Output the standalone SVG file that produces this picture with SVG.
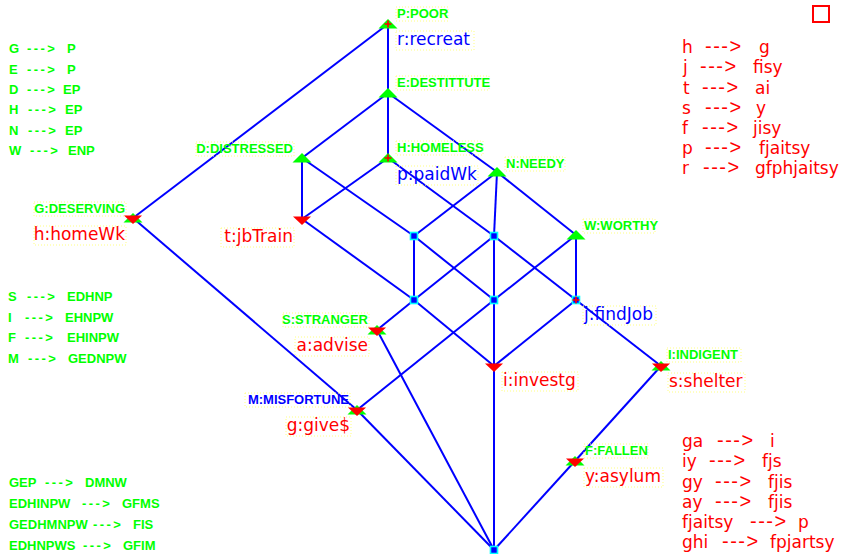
<svg xmlns="http://www.w3.org/2000/svg" width="849" height="554" viewBox="0 0 849 554">
<style>
.e{stroke:#0000ff;stroke-width:2;fill:none}
.gl{font-family:"Liberation Sans",Arial,sans-serif;font-size:13px;font-weight:bold;fill:#00ff00}
.bl{font-family:"Liberation Sans",Arial,sans-serif;font-size:13px;font-weight:bold;fill:#0000ff}
.ol{font-family:"DejaVu Sans",sans-serif;font-size:17px}
.red{fill:#ff0000}
.blu{fill:#0000ff}
.gi{font-family:"Liberation Sans",Arial,sans-serif;font-size:13px;font-weight:bold;fill:#00ff00}
.ga{letter-spacing:2.4px}
.ri{font-family:"DejaVu Sans",sans-serif;font-size:17px;fill:#ff0000}
.ra{font-family:"Liberation Sans",Arial,sans-serif;font-size:20px;letter-spacing:1.5px}
.bx{fill:none;stroke:#ffff80;stroke-width:1;stroke-dasharray:1 2}
</style>
<defs>
<polygon id="up" points="0,-5 -9.5,4.5 9.5,4.5" fill="#00ff00"/>
<polygon id="dn" points="-9,-2.5 9,-2.5 0,6" fill="#ff0000"/>
<path id="pl" d="M-3.5,0H3.5M0,-3.5V3.5" stroke="#ff0000" stroke-width="1.6" fill="none"/>
<g id="sq"><rect x="-3.5" y="-3.5" width="7" height="7" fill="#0000ff" stroke="#00ffff" stroke-width="1.6"/></g>
</defs>
<rect width="849" height="554" fill="#ffffff"/>
<rect x="813" y="6" width="16" height="16" fill="none" stroke="#ff0000" stroke-width="2"/>

<g id="connectors">
<line class="e" x1="388" y1="24" x2="133" y2="218"/>
<line class="e" x1="388" y1="24" x2="388" y2="93"/>
<line class="e" x1="388" y1="93" x2="302" y2="158"/>
<line class="e" x1="388" y1="93" x2="388" y2="158"/>
<line class="e" x1="388" y1="93" x2="497" y2="172"/>
<line class="e" x1="302" y1="158" x2="302" y2="219"/>
<line class="e" x1="302" y1="158" x2="414" y2="236"/>
<line class="e" x1="388" y1="158" x2="302" y2="219"/>
<line class="e" x1="388" y1="158" x2="494" y2="236"/>
<line class="e" x1="497" y1="172" x2="414" y2="236"/>
<line class="e" x1="497" y1="172" x2="494" y2="236"/>
<line class="e" x1="497" y1="172" x2="576" y2="235"/>
<line class="e" x1="414" y1="236" x2="414" y2="300"/>
<line class="e" x1="414" y1="236" x2="494" y2="300"/>
<line class="e" x1="494" y1="236" x2="414" y2="300"/>
<line class="e" x1="494" y1="236" x2="494" y2="300"/>
<line class="e" x1="494" y1="236" x2="576" y2="300"/>
<line class="e" x1="302" y1="219" x2="414" y2="300"/>
<line class="e" x1="576" y1="235" x2="494" y2="300"/>
<line class="e" x1="576" y1="235" x2="576" y2="300"/>
<line class="e" x1="414" y1="300" x2="377" y2="330"/>
<line class="e" x1="414" y1="300" x2="494" y2="366"/>
<line class="e" x1="494" y1="300" x2="494" y2="366"/>
<line class="e" x1="494" y1="300" x2="357" y2="410"/>
<line class="e" x1="576" y1="300" x2="494" y2="366"/>
<line class="e" x1="576" y1="300" x2="661" y2="366"/>
<line class="e" x1="133" y1="218" x2="357" y2="410"/>
<line class="e" x1="377" y1="330" x2="494" y2="550"/>
<line class="e" x1="357" y1="410" x2="494" y2="550"/>
<line class="e" x1="494" y1="366" x2="494" y2="550"/>
<line class="e" x1="661" y1="366" x2="575" y2="461"/>
<line class="e" x1="575" y1="461" x2="494" y2="550"/>
</g>

<g id="nP">
<rect class="bx" x="396" y="7" width="52" height="14"/>
<rect class="bx" x="396" y="31" width="78" height="19"/>
<use href="#up" x="388" y="24"/><use href="#pl" x="388" y="24"/>
<text class="gl" x="397" y="18">P:POOR</text>
<text class="ol blu" x="397" y="45">r:recreat</text>
</g>
<g id="nE">
<rect class="bx" x="396" y="76" width="93" height="14"/>
<use href="#up" x="388" y="93"/>
<text class="gl" x="397" y="87">E:DESTITTUTE</text>
</g>
<g id="nD">
<rect class="bx" x="196" y="142" width="98" height="14"/>
<use href="#up" x="302" y="158"/>
<text class="gl" x="293" y="153" text-anchor="end">D:DISTRESSED</text>
</g>
<g id="nH">
<rect class="bx" x="396" y="141" width="87" height="14"/>
<rect class="bx" x="396" y="166" width="82" height="19"/>
<use href="#up" x="388" y="158"/><use href="#pl" x="388" y="158"/>
<text class="gl" x="397" y="152">H:HOMELESS</text>
<text class="ol blu" x="397" y="180">p:paidWk</text>
</g>
<g id="nN">
<rect class="bx" x="505" y="157" width="60" height="14"/>
<use href="#up" x="497" y="172"/>
<text class="gl" x="506" y="168">N:NEEDY</text>
</g>
<g id="nG">
<rect class="bx" x="34" y="202" width="92" height="14"/>
<rect class="bx" x="34" y="226" width="92" height="19"/>
<use href="#up" x="133" y="218"/><use href="#dn" x="133" y="218"/>
<text class="gl" x="125" y="213" text-anchor="end">G:DESERVING</text>
<text class="ol red" x="125" y="240" text-anchor="end">h:homeWk</text>
</g>
<g id="nT">
<rect class="bx" x="221" y="228" width="73" height="19"/>
<use href="#dn" x="302" y="219"/>
<text class="ol red" x="293" y="242" text-anchor="end">t:jbTrain</text>
</g>
<g id="nW">
<rect class="bx" x="583" y="219" width="72" height="14"/>
<use href="#up" x="576" y="235"/>
<text class="gl" x="584" y="230">W:WORTHY</text>
</g>
<g id="nA1"><use href="#sq" x="414" y="236"/></g>
<g id="nA2"><use href="#sq" x="494" y="236"/></g>
<g id="nA3"><use href="#sq" x="414" y="300"/></g>
<g id="nA4"><use href="#sq" x="494" y="300"/></g>
<g id="nJ">
<rect class="bx" x="583" y="306" width="73" height="19"/>
<use href="#sq" x="576" y="300"/><use href="#pl" x="576" y="300"/>
<text class="ol blu" x="584" y="320">j:findJob</text>
</g>
<g id="nS">
<rect class="bx" x="283" y="313" width="86" height="14"/>
<rect class="bx" x="295" y="337" width="74" height="19"/>
<use href="#up" x="377" y="330"/><use href="#dn" x="377" y="330"/>
<text class="gl" x="368" y="324" text-anchor="end">S:STRANGER</text>
<text class="ol red" x="368" y="351" text-anchor="end">a:advise</text>
</g>
<g id="nI">
<rect class="bx" x="502" y="372" width="76" height="19"/>
<use href="#dn" x="494" y="366"/>
<text class="ol red" x="503" y="386">i:investg</text>
</g>
<g id="nIn">
<rect class="bx" x="667" y="348" width="74" height="14"/>
<rect class="bx" x="668" y="373" width="77" height="19"/>
<use href="#up" x="661" y="366"/><use href="#dn" x="661" y="366"/>
<text class="gl" x="668" y="359">I:INDIGENT</text>
<text class="ol red" x="669" y="387">s:shelter</text>
</g>
<g id="nM">
<rect class="bx" x="245" y="393" width="105" height="14"/>
<rect class="bx" x="286" y="417" width="65" height="19"/>
<use href="#up" x="357" y="410"/><use href="#dn" x="357" y="410"/>
<text class="bl" x="349" y="404" text-anchor="end">M:MISFORTUNE</text>
<text class="ol red" x="350" y="431" text-anchor="end">g:give$</text>
</g>
<g id="nF">
<rect class="bx" x="584" y="444" width="64" height="14"/>
<rect class="bx" x="584" y="468" width="79" height="19"/>
<use href="#up" x="575" y="461"/><use href="#dn" x="575" y="461"/>
<text class="gl" x="585" y="455">F:FALLEN</text>
<text class="ol red" x="585" y="482">y:asylum</text>
</g>
<g id="nBottom"><use href="#sq" x="494" y="550"/></g>

<g id="implications-attributes">
<text class="gi" y="53"><tspan x="9">G</tspan><tspan class="ga" x="27">---&gt;</tspan><tspan x="67">P</tspan></text>
<text class="gi" y="73.5"><tspan x="9">E</tspan><tspan class="ga" x="27">---&gt;</tspan><tspan x="67">P</tspan></text>
<text class="gi" y="94"><tspan x="9">D</tspan><tspan class="ga" x="27">---&gt;</tspan><tspan x="63">EP</tspan></text>
<text class="gi" y="114"><tspan x="9">H</tspan><tspan class="ga" x="28">---&gt;</tspan><tspan x="65">EP</tspan></text>
<text class="gi" y="134.5"><tspan x="9">N</tspan><tspan class="ga" x="28">---&gt;</tspan><tspan x="65">EP</tspan></text>
<text class="gi" y="155"><tspan x="9">W</tspan><tspan class="ga" x="30">---&gt;</tspan><tspan x="68">ENP</tspan></text>
<text class="gi" y="301"><tspan x="8">S</tspan><tspan class="ga" x="27">---&gt;</tspan><tspan x="67">EDHNP</tspan></text>
<text class="gi" y="322"><tspan x="8">I</tspan><tspan class="ga" x="25">---&gt;</tspan><tspan x="65">EHNPW</tspan></text>
<text class="gi" y="342"><tspan x="8">F</tspan><tspan class="ga" x="25">---&gt;</tspan><tspan x="67">EHINPW</tspan></text>
<text class="gi" y="363"><tspan x="8">M</tspan><tspan class="ga" x="28">---&gt;</tspan><tspan x="68">GEDNPW</tspan></text>
<text class="gi" y="487"><tspan x="9">GEP</tspan><tspan class="ga" x="45">---&gt;</tspan><tspan x="85">DMNW</tspan></text>
<text class="gi" y="508"><tspan x="9">EDHINPW</tspan><tspan class="ga" x="82">---&gt;</tspan><tspan x="122">GFMS</tspan></text>
<text class="gi" y="529"><tspan x="9">GEDHMNPW</tspan><tspan class="ga" x="93">---&gt;</tspan><tspan x="133">FIS</tspan></text>
<text class="gi" y="550"><tspan x="9">EDHNPWS</tspan><tspan class="ga" x="83">---&gt;</tspan><tspan x="123">GFIM</tspan></text>
</g>

<g id="implications-objects">
<text class="ri" y="53"><tspan x="682">h</tspan><tspan class="ra" x="705">---&gt;</tspan><tspan x="759">g</tspan></text>
<text class="ri" y="73"><tspan x="683">j</tspan><tspan class="ra" x="700">---&gt;</tspan><tspan x="753">fisy</tspan></text>
<text class="ri" y="93.5"><tspan x="683">t</tspan><tspan class="ra" x="702">---&gt;</tspan><tspan x="755">ai</tspan></text>
<text class="ri" y="113.5"><tspan x="682">s</tspan><tspan class="ra" x="705">---&gt;</tspan><tspan x="756">y</tspan></text>
<text class="ri" y="134"><tspan x="682">f</tspan><tspan class="ra" x="702">---&gt;</tspan><tspan x="753">jisy</tspan></text>
<text class="ri" y="154"><tspan x="682">p</tspan><tspan class="ra" x="705">---&gt;</tspan><tspan x="759">fjaitsy</tspan></text>
<text class="ri" y="174"><tspan x="682">r</tspan><tspan class="ra" x="703">---&gt;</tspan><tspan x="755">gfphjaitsy</tspan></text>
<text class="ri" y="447"><tspan x="682">ga</tspan><tspan class="ra" x="717">---&gt;</tspan><tspan x="770">i</tspan></text>
<text class="ri" y="467"><tspan x="682">iy</tspan><tspan class="ra" x="709">---&gt;</tspan><tspan x="762">fjs</tspan></text>
<text class="ri" y="487.5"><tspan x="682">gy</tspan><tspan class="ra" x="715">---&gt;</tspan><tspan x="768">fjis</tspan></text>
<text class="ri" y="507.5"><tspan x="682">ay</tspan><tspan class="ra" x="715">---&gt;</tspan><tspan x="768">fjis</tspan></text>
<text class="ri" y="528"><tspan x="682">fjaitsy</tspan><tspan class="ra" x="750">---&gt;</tspan><tspan x="798">p</tspan></text>
<text class="ri" y="548"><tspan x="682">ghi</tspan><tspan class="ra" x="722">---&gt;</tspan><tspan x="770">fpjartsy</tspan></text>
</g>
</svg>
